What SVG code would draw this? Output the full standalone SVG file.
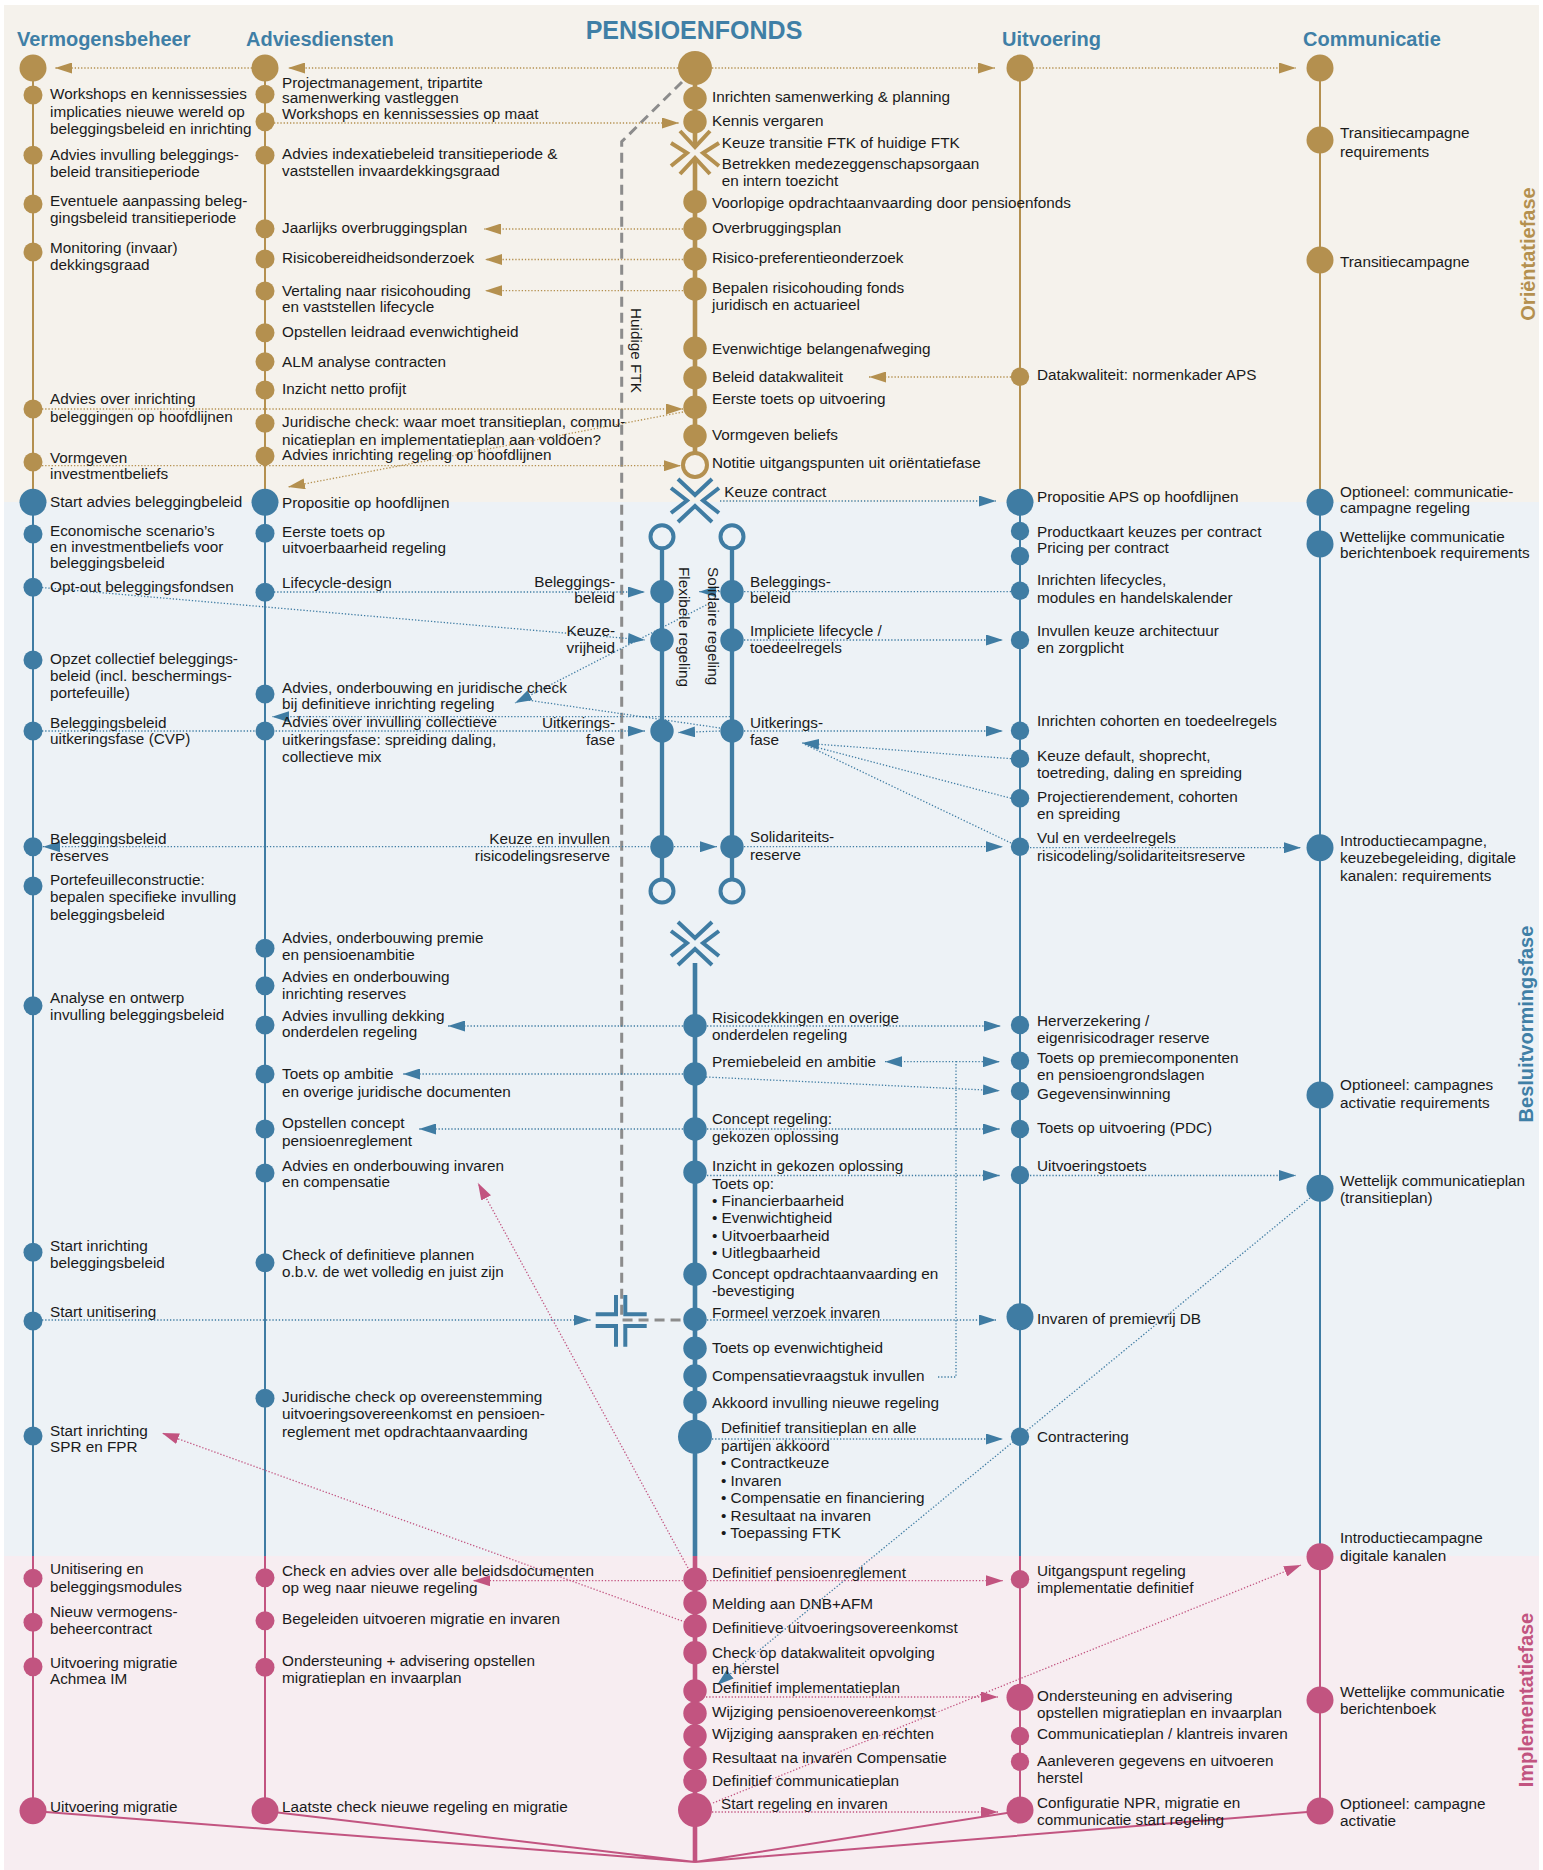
<svg xmlns="http://www.w3.org/2000/svg" width="1543" height="1870" viewBox="0 0 1543 1870">
<defs>
<style>
.t{font-family:"Liberation Sans",Arial,sans-serif;font-size:15.3px;fill:#1a1a1a}
.h{font-family:"Liberation Sans",Arial,sans-serif;font-weight:bold;font-size:20px;fill:#3f7fa6}
.ph{font-family:"Liberation Sans",Arial,sans-serif;font-weight:bold;font-size:20px}
.g{fill:#b4904f}.b{fill:#3f7ca3}.p{fill:#c25480}
.lg{stroke:#b4904f;fill:none}.lb{stroke:#3f7ca3;fill:none}.lp{stroke:#c25480;fill:none}
.thin{stroke-width:2}.thick{stroke-width:4.6}
.dg{stroke:#b4904f;stroke-width:1.3;stroke-dasharray:1.3 1.9;fill:none}
.db{stroke:#3f7ca3;stroke-width:1.3;stroke-dasharray:1.3 1.9;fill:none}
.dp{stroke:#c25480;stroke-width:1.3;stroke-dasharray:1.3 1.9;fill:none}
.mg{marker-end:url(#ag)}.mb{marker-end:url(#ab)}.mp{marker-end:url(#ap)}
.sym{fill:none;stroke-width:4;stroke-linecap:butt}
</style>
<marker id="ag" markerWidth="17" markerHeight="11" refX="17" refY="5.5" orient="auto" markerUnits="userSpaceOnUse"><path d="M0,0 L17,5.5 L0,11 Z" fill="#b4904f"/></marker>
<marker id="ab" markerWidth="17" markerHeight="11" refX="17" refY="5.5" orient="auto" markerUnits="userSpaceOnUse"><path d="M0,0 L17,5.5 L0,11 Z" fill="#3f7ca3"/></marker>
<marker id="ap" markerWidth="17" markerHeight="11" refX="17" refY="5.5" orient="auto" markerUnits="userSpaceOnUse"><path d="M0,0 L17,5.5 L0,11 Z" fill="#c25480"/></marker>
</defs>
<rect width="1543" height="1870" fill="#ffffff"/>
<g id="phases">
<rect x="4" y="5" width="1535" height="497" fill="#f5f2ec"/>
<rect x="4" y="502" width="1535" height="1054" fill="#edf2f6"/>
<rect x="4" y="1556" width="1535" height="314" fill="#f7edf1"/>
<text class="ph" transform="rotate(-90 1535 254)" x="1535" y="254" text-anchor="middle" style="fill:#b4904f">Oriëntatiefase</text>
<text class="ph" transform="rotate(-90 1533 1024)" x="1533" y="1024" text-anchor="middle" style="fill:#3f7fa6">Besluitvormingsfase</text>
<text class="ph" transform="rotate(-90 1533 1700)" x="1533" y="1700" text-anchor="middle" style="fill:#c25480">Implementatiefase</text>
</g>
<g id="headers">
<text class="h" x="17" y="46">Vermogensbeheer</text>
<text class="h" x="246" y="46">Adviesdiensten</text>
<text class="h" x="694" y="39" text-anchor="middle" style="font-size:25px">PENSIOENFONDS</text>
<text class="h" x="1002" y="46">Uitvoering</text>
<text class="h" x="1303" y="46">Communicatie</text>
</g>
<g id="lanes">
<path class="lg thin" d="M33,68 V502 M265,68 V502 M1020,68 V502 M1320,68 V502"/>
<path class="lb thin" d="M33,502 V1556 M265,502 V1556 M1020,502 V1556 M1320,502 V1556"/>
<path class="lp thin" d="M33,1556 V1811 M265,1556 V1811 M1020,1556 V1811 M1320,1556 V1811"/>
<path class="lg thick" d="M695,68 V147 M695,158 V465"/>
<path class="lb" stroke-width="4.3" d="M662,537 V891 M732,537 V891"/>
<path class="lb thick" d="M695,963 V1556"/>
<path class="lp thick" d="M695,1556 V1862"/>
<path class="lp thin" d="M33,1811 L695,1862 M265,1811 L695,1862 M1020,1811 L695,1862 M1320,1811 L695,1862"/>
</g>
<g id="connectors">
<path d="M682,82 L621.7,141.7 V1320 H683" fill="none" stroke="#8c8c8c" stroke-width="3" stroke-dasharray="10 6"/>
<text class="t" transform="rotate(90 631 308)" x="631" y="308">Huidige FTK</text>
<path class="dg mg" d="M678,68 H288"/>
<path class="dg mg" d="M252,68 H55"/>
<path class="dg mg" d="M712,68 H995"/>
<path class="dg mg" d="M1033,68 H1296"/>
<path class="dg mg" d="M274,123 H679"/>
<path class="dg mg" d="M683,229 H484"/>
<path class="dg mg" d="M683,259.5 H485"/>
<path class="dg mg" d="M683,290.7 H485"/>
<path class="dg mg" d="M1011,377 H869"/>
<path class="dg mg" d="M42,409 H683"/>
<path class="dg mg" d="M683,412 L288,487"/>
<path class="dg mg" d="M42,465.7 H681"/>
<path class="db mb" d="M720,501 H996"/>
<path class="db mb" d="M274,592 H645"/>
<path class="db mb" d="M1011,591.7 H699"/>
<path class="db mb" d="M42,587.5 L645,640"/>
<path class="db mb" d="M744,640 H1003"/>
<path class="db mb" d="M712,602 L515,703"/>
<path class="db" d="M720,728 L520,699"/>
<path class="db mb" d="M730,716.7 H272"/>
<path class="db mb" d="M42,731 H645"/>
<path class="db mb" d="M720,731 L678,732.5"/>
<path class="db mb" d="M744,731 H1003"/>
<path class="db mb" d="M1011,758.7 L802,743"/>
<path class="db" d="M1011,798.3 L804,744"/>
<path class="db" d="M1011,843 L804,744"/>
<path class="db mb" d="M652,846.7 H43"/>
<path class="db mb" d="M674,846.7 H717"/>
<path class="db mb" d="M744,846.7 H1003"/>
<path class="db mb" d="M1030,847.7 H1301"/>
<path class="db mb" d="M683,1026 H448"/>
<path class="db mb" d="M707,1026 H1001"/>
<path class="db mb" d="M683,1074 H403"/>
<path class="db mb" d="M938,1377 H956 V1061.7 H885"/>
<path class="db mb" d="M956,1061.7 H1000"/>
<path class="db mb" d="M706,1077 L1000,1090.7"/>
<path class="db mb" d="M683,1129 H419"/>
<path class="db mb" d="M707,1129 H1000"/>
<path class="db mb" d="M707,1175.5 H1000"/>
<path class="db mb" d="M1030,1175.5 H1296"/>
<path class="db mb" d="M42,1320 H590.7"/>
<path class="db mb" d="M707,1320 H996"/>
<path class="db mb" d="M1310,1198 L717,1685"/>
<path class="db mb" d="M712,1439 H1003"/>
<path class="dp mp" d="M683,1580.7 H473"/>
<path class="dp mp" d="M707,1580.7 H1003"/>
<path class="dp mp" d="M688,1568 L478,1183"/>
<path class="dp mp" d="M685,1622 L162,1433"/>
<path class="dp mp" d="M706,1697 H998"/>
<path class="dp mp" d="M713,1803 L1301,1565"/>
<path class="dp mp" d="M712,1812 H998"/>
</g>
<g id="symbols">
<path class="sym" stroke="#b4904f" d="M680,131 L695,147 L710,131 M680,174 L695,158 L710,174 M671,143 L687,153 L671,166 M719,143 L703,153 L719,166"/>
<path class="sym" stroke="#3f7ca3" d="M678,479 L695,495 L712,479 M678,522 L695,506 L712,522 M671,488 L687,500.5 L671,513 M719,488 L703,500.5 L719,513"/>
<path class="sym" stroke="#3f7ca3" d="M678,922 L695,938 L712,922 M678,965 L695,949 L712,965 M671,931 L687,943 L671,956 M719,931 L703,943 L719,956"/>
<path class="sym" stroke="#3f7ca3" d="M616,1295 V1314.3 H595.7 M625.3,1295 V1314.3 H646.7 M595.7,1326 H616 V1346.7 M646.7,1326 H625.3 V1346.7"/>
</g>
<g id="vermogensbeheer">
<g id="vb0"><circle class="g" cx="33" cy="68" r="13.5"/></g>
<g id="vb1"><circle class="g" cx="33" cy="95" r="9.5"/><text class="t" x="50" y="99">Workshops en kennissessies<tspan x="50" y="116.5">implicaties nieuwe wereld op</tspan><tspan x="50" y="134">beleggingsbeleid en inrichting</tspan></text></g>
<g id="vb2"><circle class="g" cx="33" cy="155.3" r="9.5"/><text class="t" x="50" y="160">Advies invulling beleggings-<tspan x="50" y="177">beleid transitieperiode</tspan></text></g>
<g id="vb3"><circle class="g" cx="33" cy="204" r="9.5"/><text class="t" x="50" y="205.5">Eventuele aanpassing beleg-<tspan x="50" y="222.7">gingsbeleid transitieperiode</tspan></text></g>
<g id="vb4"><circle class="g" cx="33" cy="252" r="9.5"/><text class="t" x="50" y="253">Monitoring (invaar)<tspan x="50" y="270">dekkingsgraad</tspan></text></g>
<g id="vb5"><circle class="g" cx="33" cy="409" r="9.5"/><text class="t" x="50" y="404">Advies over inrichting<tspan x="50" y="421.5">beleggingen op hoofdlijnen</tspan></text></g>
<g id="vb6"><circle class="g" cx="33" cy="462" r="9.5"/><text class="t" x="50" y="462.5">Vormgeven<tspan x="50" y="479">investmentbeliefs</tspan></text></g>
<g id="vb7"><circle class="b" cx="33" cy="502.3" r="13.5"/><text class="t" x="50" y="506.7">Start advies beleggingbeleid</text></g>
<g id="vb8"><circle class="b" cx="33" cy="534" r="9.5"/><text class="t" x="50" y="536">Economische scenario’s<tspan x="50" y="552">en investmentbeliefs voor</tspan><tspan x="50" y="568">beleggingsbeleid</tspan></text></g>
<g id="vb9"><circle class="b" cx="33" cy="587.3" r="9.5"/><text class="t" x="50" y="592">Opt-out beleggingsfondsen</text></g>
<g id="vb10"><circle class="b" cx="33" cy="660" r="9.5"/><text class="t" x="50" y="664">Opzet collectief beleggings-<tspan x="50" y="680.7">beleid (incl. beschermings-</tspan><tspan x="50" y="697.5">portefeuille)</tspan></text></g>
<g id="vb11"><circle class="b" cx="33" cy="731" r="9.5"/><text class="t" x="50" y="727.7">Beleggingsbeleid<tspan x="50" y="744.3">uitkeringsfase (CVP)</tspan></text></g>
<g id="vb12"><circle class="b" cx="33" cy="846.7" r="9.5"/><text class="t" x="50" y="844">Beleggingsbeleid<tspan x="50" y="860.7">reserves</tspan></text></g>
<g id="vb13"><circle class="b" cx="33" cy="886" r="9.5"/><text class="t" x="50" y="885">Portefeuilleconstructie:<tspan x="50" y="902.3">bepalen specifieke invulling</tspan><tspan x="50" y="920">beleggingsbeleid</tspan></text></g>
<g id="vb14"><circle class="b" cx="33" cy="1005.7" r="9.5"/><text class="t" x="50" y="1002.7">Analyse en ontwerp<tspan x="50" y="1020">invulling beleggingsbeleid</tspan></text></g>
<g id="vb15"><circle class="b" cx="33" cy="1252.3" r="9.5"/><text class="t" x="50" y="1250.7">Start inrichting<tspan x="50" y="1268">beleggingsbeleid</tspan></text></g>
<g id="vb16"><circle class="b" cx="33" cy="1321" r="9.5"/><text class="t" x="50" y="1316.7">Start unitisering</text></g>
<g id="vb17"><circle class="b" cx="33" cy="1436" r="9.5"/><text class="t" x="50" y="1435.7">Start inrichting<tspan x="50" y="1452.3">SPR en FPR</tspan></text></g>
<g id="vb18"><circle class="p" cx="33" cy="1578.3" r="9.5"/><text class="t" x="50" y="1574">Unitisering en<tspan x="50" y="1591.7">beleggingsmodules</tspan></text></g>
<g id="vb19"><circle class="p" cx="33" cy="1622.3" r="9.5"/><text class="t" x="50" y="1617.3">Nieuw vermogens-<tspan x="50" y="1634.3">beheercontract</tspan></text></g>
<g id="vb20"><circle class="p" cx="33" cy="1666.7" r="9.5"/><text class="t" x="50" y="1667.7">Uitvoering migratie<tspan x="50" y="1684.3">Achmea IM</tspan></text></g>
<g id="vb21"><circle class="p" cx="33" cy="1810.7" r="13.5"/><text class="t" x="50" y="1811.7">Uitvoering migratie</text></g>
</g>
<g id="adviesdiensten">
<g id="ad0"><circle class="g" cx="265" cy="68" r="13.5"/></g>
<g id="ad1"><circle class="g" cx="265" cy="94.3" r="9.5"/><text class="t" x="282" y="88.3">Projectmanagement, tripartite<tspan x="282" y="103.3">samenwerking vastleggen</tspan></text></g>
<g id="ad2"><circle class="g" cx="265" cy="121.7" r="9.5"/><text class="t" x="282" y="119">Workshops en kennissessies op maat</text></g>
<g id="ad3"><circle class="g" cx="265" cy="155.3" r="9.5"/><text class="t" x="282" y="159.3">Advies indexatiebeleid transitieperiode &amp;<tspan x="282" y="176">vaststellen invaardekkingsgraad</tspan></text></g>
<g id="ad4"><circle class="g" cx="265" cy="228.7" r="9.5"/><text class="t" x="282" y="232.7">Jaarlijks overbruggingsplan</text></g>
<g id="ad5"><circle class="g" cx="265" cy="259" r="9.5"/><text class="t" x="282" y="263.3">Risicobereidheidsonderzoek</text></g>
<g id="ad6"><circle class="g" cx="265" cy="291" r="9.5"/><text class="t" x="282" y="295.7">Vertaling naar risicohouding<tspan x="282" y="312.3">en vaststellen lifecycle</tspan></text></g>
<g id="ad7"><circle class="g" cx="265" cy="332.7" r="9.5"/><text class="t" x="282" y="337.3">Opstellen leidraad evenwichtigheid</text></g>
<g id="ad8"><circle class="g" cx="265" cy="361.7" r="9.5"/><text class="t" x="282" y="366.7">ALM analyse contracten</text></g>
<g id="ad9"><circle class="g" cx="265" cy="390" r="9.5"/><text class="t" x="282" y="394.3">Inzicht netto profijt</text></g>
<g id="ad10"><circle class="g" cx="265" cy="423.3" r="9.5"/><text class="t" x="282" y="427.3">Juridische check: waar moet transitieplan, commu-<tspan x="282" y="445">nicatieplan en implementatieplan aan voldoen?</tspan></text></g>
<g id="ad11"><circle class="g" cx="265" cy="456" r="9.5"/><text class="t" x="282" y="460">Advies inrichting regeling op hoofdlijnen</text></g>
<g id="ad12"><circle class="b" cx="265" cy="502.3" r="13.5"/><text class="t" x="282" y="508.3">Propositie op hoofdlijnen</text></g>
<g id="ad13"><circle class="b" cx="265" cy="533.3" r="9.5"/><text class="t" x="282" y="536.7">Eerste toets op<tspan x="282" y="553.3">uitvoerbaarheid regeling</tspan></text></g>
<g id="ad14"><circle class="b" cx="265" cy="592.3" r="9.5"/><text class="t" x="282" y="588.3">Lifecycle-design</text></g>
<g id="ad15"><circle class="b" cx="265" cy="694" r="9.5"/><text class="t" x="282" y="692.7">Advies, onderbouwing en juridische check<tspan x="282" y="709.3">bij definitieve inrichting regeling</tspan></text></g>
<g id="ad16"><circle class="b" cx="265" cy="731" r="9.5"/><text class="t" x="282" y="727.3">Advies over invulling collectieve<tspan x="282" y="745">uitkeringsfase: spreiding daling,</tspan><tspan x="282" y="761.7">collectieve mix</tspan></text></g>
<g id="ad17"><circle class="b" cx="265" cy="948.3" r="9.5"/><text class="t" x="282" y="943.3">Advies, onderbouwing premie<tspan x="282" y="960">en pensioenambitie</tspan></text></g>
<g id="ad18"><circle class="b" cx="265" cy="985.7" r="9.5"/><text class="t" x="282" y="982.3">Advies en onderbouwing<tspan x="282" y="999.3">inrichting reserves</tspan></text></g>
<g id="ad19"><circle class="b" cx="265" cy="1025" r="9.5"/><text class="t" x="282" y="1020.7">Advies invulling dekking<tspan x="282" y="1037.3">onderdelen regeling</tspan></text></g>
<g id="ad20"><circle class="b" cx="265" cy="1074" r="9.5"/><text class="t" x="282" y="1079.3">Toets op ambitie<tspan x="282" y="1096.7">en overige juridische documenten</tspan></text></g>
<g id="ad21"><circle class="b" cx="265" cy="1129" r="9.5"/><text class="t" x="282" y="1128.3">Opstellen concept<tspan x="282" y="1146">pensioenreglement</tspan></text></g>
<g id="ad22"><circle class="b" cx="265" cy="1173" r="9.5"/><text class="t" x="282" y="1170.7">Advies en onderbouwing invaren<tspan x="282" y="1187.3">en compensatie</tspan></text></g>
<g id="ad23"><circle class="b" cx="265" cy="1262.7" r="9.5"/><text class="t" x="282" y="1260">Check of definitieve plannen<tspan x="282" y="1277.3">o.b.v. de wet volledig en juist zijn</tspan></text></g>
<g id="ad24"><circle class="b" cx="265" cy="1398.3" r="9.5"/><text class="t" x="282" y="1401.7">Juridische check op overeenstemming<tspan x="282" y="1418.7">uitvoeringsovereenkomst en pensioen-</tspan><tspan x="282" y="1436.5">reglement met opdrachtaanvaarding</tspan></text></g>
<g id="ad25"><circle class="p" cx="265" cy="1577.7" r="9.5"/><text class="t" x="282" y="1575.7">Check en advies over alle beleidsdocumenten<tspan x="282" y="1593.3">op weg naar nieuwe regeling</tspan></text></g>
<g id="ad26"><circle class="p" cx="265" cy="1620.7" r="9.5"/><text class="t" x="282" y="1624.3">Begeleiden uitvoeren migratie en invaren</text></g>
<g id="ad27"><circle class="p" cx="265" cy="1667.3" r="9.5"/><text class="t" x="282" y="1665.7">Ondersteuning + advisering opstellen<tspan x="282" y="1682.7">migratieplan en invaarplan</tspan></text></g>
<g id="ad28"><circle class="p" cx="265" cy="1810.7" r="13.5"/><text class="t" x="282" y="1811.7">Laatste check nieuwe regeling en migratie</text></g>
</g>
<g id="pensioenfonds">
<g id="pf0"><circle class="g" cx="695" cy="68" r="17"/></g>
<g id="pf1"><circle class="g" cx="695" cy="98.3" r="11.7"/><text class="t" x="712" y="101.7">Inrichten samenwerking &amp; planning</text></g>
<g id="pf2"><circle class="g" cx="695" cy="121.7" r="11.7"/><text class="t" x="712" y="125.7">Kennis vergaren</text></g>
<g id="pf3"><text class="t" x="721.7" y="148.3">Keuze transitie FTK of huidige FTK<tspan x="721.7" y="169.3">Betrekken medezeggenschapsorgaan</tspan><tspan x="721.7" y="186">en intern toezicht</tspan></text></g>
<g id="pf4"><circle class="g" cx="695" cy="201.7" r="11.7"/><text class="t" x="712" y="208.3">Voorlopige opdrachtaanvaarding door pensioenfonds</text></g>
<g id="pf5"><circle class="g" cx="695" cy="228.7" r="11.7"/><text class="t" x="712" y="232.7">Overbruggingsplan</text></g>
<g id="pf6"><circle class="g" cx="695" cy="259" r="11.7"/><text class="t" x="712" y="263.3">Risico-preferentieonderzoek</text></g>
<g id="pf7"><circle class="g" cx="695" cy="289" r="11.7"/><text class="t" x="712" y="293.3">Bepalen risicohouding fonds<tspan x="712" y="310">juridisch en actuarieel</tspan></text></g>
<g id="pf8"><circle class="g" cx="695" cy="348.3" r="11.7"/><text class="t" x="712" y="354.3">Evenwichtige belangenafweging</text></g>
<g id="pf9"><circle class="g" cx="695" cy="377.7" r="11.7"/><text class="t" x="712" y="381.7">Beleid datakwaliteit</text></g>
<g id="pf10"><circle class="g" cx="695" cy="407.3" r="11.7"/><text class="t" x="712" y="404.3">Eerste toets op uitvoering</text></g>
<g id="pf11"><circle class="g" cx="695" cy="436" r="11.7"/><text class="t" x="712" y="440">Vormgeven beliefs</text></g>
<g id="pf12"><circle cx="695" cy="465" r="12" fill="#f5f2ec" stroke="#b4904f" stroke-width="4"/><text class="t" x="712" y="468.3">Notitie uitgangspunten uit oriëntatiefase</text></g>
<g id="pf13"><text class="t" x="724.3" y="497.3">Keuze contract</text></g>
<g id="pf15"><circle class="b" cx="695" cy="1025.7" r="11.7"/><text class="t" x="712" y="1023.3">Risicodekkingen en overige<tspan x="712" y="1040">onderdelen regeling</tspan></text></g>
<g id="pf16"><circle class="b" cx="695" cy="1074" r="11.7"/><text class="t" x="712" y="1067.3">Premiebeleid en ambitie</text></g>
<g id="pf17"><circle class="b" cx="695" cy="1129" r="11.7"/><text class="t" x="712" y="1124">Concept regeling:<tspan x="712" y="1141.7">gekozen oplossing</tspan></text></g>
<g id="pf18"><circle class="b" cx="695" cy="1172.3" r="11.7"/><text class="t" x="712" y="1171">Inzicht in gekozen oplossing<tspan x="712" y="1189">Toets op:</tspan><tspan x="712" y="1205.7">• Financierbaarheid</tspan><tspan x="712" y="1223.3">• Evenwichtigheid</tspan><tspan x="712" y="1240.7">• Uitvoerbaarheid</tspan><tspan x="712" y="1257.7">• Uitlegbaarheid</tspan></text></g>
<g id="pf19"><circle class="b" cx="695" cy="1274.3" r="11.7"/><text class="t" x="712" y="1279">Concept opdrachtaanvaarding en<tspan x="712" y="1296">-bevestiging</tspan></text></g>
<g id="pf20"><circle class="b" cx="695" cy="1319.3" r="11.7"/><text class="t" x="712" y="1317.7">Formeel verzoek invaren</text></g>
<g id="pf21"><circle class="b" cx="695" cy="1348.3" r="11.7"/><text class="t" x="712" y="1353.3">Toets op evenwichtigheid</text></g>
<g id="pf22"><circle class="b" cx="695" cy="1376" r="11.7"/><text class="t" x="712" y="1380.7">Compensatievraagstuk invullen</text></g>
<g id="pf23"><circle class="b" cx="695" cy="1402.3" r="11.7"/><text class="t" x="712" y="1407.7">Akkoord invulling nieuwe regeling</text></g>
<g id="pf24"><circle class="b" cx="695" cy="1436.7" r="17"/><text class="t" x="721" y="1433.3">Definitief transitieplan en alle<tspan x="721" y="1451">partijen akkoord</tspan><tspan x="721" y="1468.3">• Contractkeuze</tspan><tspan x="721" y="1485.7">• Invaren</tspan><tspan x="721" y="1503.3">• Compensatie en financiering</tspan><tspan x="721" y="1520.7">• Resultaat na invaren</tspan><tspan x="721" y="1537.7">• Toepassing FTK</tspan></text></g>
<g id="pf25"><circle class="p" cx="695" cy="1579.3" r="11.7"/><text class="t" x="712" y="1577.7">Definitief pensioenreglement</text></g>
<g id="pf26"><circle class="p" cx="695" cy="1602.7" r="11.7"/><text class="t" x="712" y="1609.3">Melding aan DNB+AFM</text></g>
<g id="pf27"><circle class="p" cx="695" cy="1626" r="11.7"/><text class="t" x="712" y="1632.7">Definitieve uitvoeringsovereenkomst</text></g>
<g id="pf28"><circle class="p" cx="695" cy="1652.7" r="11.7"/><text class="t" x="712" y="1657.7">Check op datakwaliteit opvolging<tspan x="712" y="1674.3">en herstel</tspan></text></g>
<g id="pf29"><circle class="p" cx="695" cy="1691" r="11.7"/><text class="t" x="712" y="1693.3">Definitief implementatieplan</text></g>
<g id="pf30"><circle class="p" cx="695" cy="1713.3" r="11.7"/><text class="t" x="712" y="1716.7">Wijziging pensioenovereenkomst</text></g>
<g id="pf31"><circle class="p" cx="695" cy="1736" r="11.7"/><text class="t" x="712" y="1739.3">Wijziging aanspraken en rechten</text></g>
<g id="pf32"><circle class="p" cx="695" cy="1758.3" r="11.7"/><text class="t" x="712" y="1762.7">Resultaat na invaren Compensatie</text></g>
<g id="pf33"><circle class="p" cx="695" cy="1780.7" r="11.7"/><text class="t" x="712" y="1785.7">Definitief communicatieplan</text></g>
<g id="pf34"><circle class="p" cx="695" cy="1810" r="17"/><text class="t" x="721" y="1809">Start regeling en invaren</text></g>
</g>
<g id="regelingen">
<g id="flex">
<circle cx="662" cy="536.7" r="11.5" fill="#edf2f6" stroke="#3f7ca3" stroke-width="4"/>
<circle cx="662" cy="891" r="11.5" fill="#edf2f6" stroke="#3f7ca3" stroke-width="4"/>
<text class="t" transform="rotate(90 679 567)" x="679" y="567">Flexibele regeling</text>
</g>
<g id="flex1"><circle class="b" cx="662" cy="591.7" r="11.7"/><text class="t" x="615" y="586.7" text-anchor="end">Beleggings-<tspan x="615" y="603.3">beleid</tspan></text></g>
<g id="flex2"><circle class="b" cx="662" cy="640" r="11.7"/><text class="t" x="615" y="635.7" text-anchor="end">Keuze-<tspan x="615" y="653.3">vrijheid</tspan></text></g>
<g id="flex3"><circle class="b" cx="662" cy="731" r="11.7"/><text class="t" x="615" y="727.7" text-anchor="end">Uitkerings-<tspan x="615" y="745">fase</tspan></text></g>
<g id="flex4"><circle class="b" cx="662" cy="846.7" r="11.7"/><text class="t" x="610" y="844" text-anchor="end">Keuze en invullen<tspan x="610" y="860.7">risicodelingsreserve</tspan></text></g>
<g id="sol">
<circle cx="732" cy="536.7" r="11.5" fill="#edf2f6" stroke="#3f7ca3" stroke-width="4"/>
<circle cx="732" cy="891" r="11.5" fill="#edf2f6" stroke="#3f7ca3" stroke-width="4"/>
<text class="t" transform="rotate(90 708 567)" x="708" y="567">Solidaire regeling</text>
</g>
<g id="sol1"><circle class="b" cx="732" cy="591.7" r="11.7"/><text class="t" x="750" y="586.7">Beleggings-<tspan x="750" y="603.3">beleid</tspan></text></g>
<g id="sol2"><circle class="b" cx="732" cy="640" r="11.7"/><text class="t" x="750" y="635.7">Impliciete lifecycle /<tspan x="750" y="653.3">toedeelregels</tspan></text></g>
<g id="sol3"><circle class="b" cx="732" cy="731" r="11.7"/><text class="t" x="750" y="727.7">Uitkerings-<tspan x="750" y="745">fase</tspan></text></g>
<g id="sol4"><circle class="b" cx="732" cy="846.7" r="11.7"/><text class="t" x="750" y="841.7">Solidariteits-<tspan x="750" y="860">reserve</tspan></text></g>
</g>
<g id="uitvoering">
<g id="uv0"><circle class="g" cx="1020" cy="68" r="13.5"/></g>
<g id="uv1"><circle class="g" cx="1020" cy="376.7" r="9.2"/><text class="t" x="1037" y="380">Datakwaliteit: normenkader APS</text></g>
<g id="uv2"><circle class="b" cx="1020" cy="502.3" r="13.5"/><text class="t" x="1037" y="501.7">Propositie APS op hoofdlijnen</text></g>
<g id="uv3"><circle class="b" cx="1020" cy="531" r="9.2"/><text class="t" x="1037" y="536.7">Productkaart keuzes per contract</text></g>
<g id="uv4"><circle class="b" cx="1020" cy="556" r="9.2"/><text class="t" x="1037" y="553.3">Pricing per contract</text></g>
<g id="uv5"><circle class="b" cx="1020" cy="590.7" r="9.2"/><text class="t" x="1037" y="585">Inrichten lifecycles,<tspan x="1037" y="602.7">modules en handelskalender</tspan></text></g>
<g id="uv6"><circle class="b" cx="1020" cy="640" r="9.2"/><text class="t" x="1037" y="635.7">Invullen keuze architectuur<tspan x="1037" y="653.3">en zorgplicht</tspan></text></g>
<g id="uv7"><circle class="b" cx="1020" cy="730.7" r="9.2"/><text class="t" x="1037" y="725.7">Inrichten cohorten en toedeelregels</text></g>
<g id="uv8"><circle class="b" cx="1020" cy="758.7" r="9.2"/><text class="t" x="1037" y="760.7">Keuze default, shoprecht,<tspan x="1037" y="778.3">toetreding, daling en spreiding</tspan></text></g>
<g id="uv9"><circle class="b" cx="1020" cy="798.3" r="9.2"/><text class="t" x="1037" y="801.7">Projectierendement, cohorten<tspan x="1037" y="819.3">en spreiding</tspan></text></g>
<g id="uv10"><circle class="b" cx="1020" cy="846.7" r="9.2"/><text class="t" x="1037" y="843.3">Vul en verdeelregels<tspan x="1037" y="860.7">risicodeling/solidariteitsreserve</tspan></text></g>
<g id="uv11"><circle class="b" cx="1020" cy="1025" r="9.2"/><text class="t" x="1037" y="1025.7">Herverzekering /<tspan x="1037" y="1042.7">eigenrisicodrager reserve</tspan></text></g>
<g id="uv12"><circle class="b" cx="1020" cy="1060.7" r="9.2"/><text class="t" x="1037" y="1062.7">Toets op premiecomponenten<tspan x="1037" y="1080">en pensioengrondslagen</tspan></text></g>
<g id="uv13"><circle class="b" cx="1020" cy="1091" r="9.2"/><text class="t" x="1037" y="1098.7">Gegevensinwinning</text></g>
<g id="uv14"><circle class="b" cx="1020" cy="1129" r="9.2"/><text class="t" x="1037" y="1132.7">Toets op uitvoering (PDC)</text></g>
<g id="uv15"><circle class="b" cx="1020" cy="1175" r="9.2"/><text class="t" x="1037" y="1170.7">Uitvoeringstoets</text></g>
<g id="uv16"><circle class="b" cx="1020" cy="1316.7" r="13.5"/><text class="t" x="1037" y="1324.3">Invaren of premievrij DB</text></g>
<g id="uv17"><circle class="b" cx="1020" cy="1436.7" r="9.2"/><text class="t" x="1037" y="1441.7">Contractering</text></g>
<g id="uv18"><circle class="p" cx="1020" cy="1579.3" r="9.2"/><text class="t" x="1037" y="1575.7">Uitgangspunt regeling<tspan x="1037" y="1592.7">implementatie definitief</tspan></text></g>
<g id="uv19"><circle class="p" cx="1020" cy="1697.3" r="13.5"/><text class="t" x="1037" y="1701">Ondersteuning en advisering<tspan x="1037" y="1718.3">opstellen migratieplan en invaarplan</tspan></text></g>
<g id="uv20"><circle class="p" cx="1020" cy="1736" r="9.2"/><text class="t" x="1037" y="1739.3">Communicatieplan / klantreis invaren</text></g>
<g id="uv21"><circle class="p" cx="1020" cy="1761.7" r="9.2"/><text class="t" x="1037" y="1766">Aanleveren gegevens en uitvoeren<tspan x="1037" y="1782.7">herstel</tspan></text></g>
<g id="uv22"><circle class="p" cx="1020" cy="1810" r="13.5"/><text class="t" x="1037" y="1807.7">Configuratie NPR, migratie en<tspan x="1037" y="1825">communicatie start regeling</tspan></text></g>
</g>
<g id="communicatie">
<g id="cm0"><circle class="g" cx="1320" cy="68" r="13.5"/></g>
<g id="cm1"><circle class="g" cx="1320" cy="140" r="13.5"/><text class="t" x="1340" y="138.3">Transitiecampagne<tspan x="1340" y="156.7">requirements</tspan></text></g>
<g id="cm2"><circle class="g" cx="1320" cy="260" r="13.5"/><text class="t" x="1340" y="266.7">Transitiecampagne</text></g>
<g id="cm3"><circle class="b" cx="1320" cy="502.3" r="13.5"/><text class="t" x="1340" y="496.7">Optioneel: communicatie-<tspan x="1340" y="513.3">campagne regeling</tspan></text></g>
<g id="cm4"><circle class="b" cx="1320" cy="544" r="13.5"/><text class="t" x="1340" y="541.7">Wettelijke communicatie<tspan x="1340" y="558.3">berichtenboek requirements</tspan></text></g>
<g id="cm5"><circle class="b" cx="1320" cy="847.7" r="13.5"/><text class="t" x="1340" y="845.7">Introductiecampagne,<tspan x="1340" y="863.3">keuzebegeleiding, digitale</tspan><tspan x="1340" y="880.7">kanalen: requirements</tspan></text></g>
<g id="cm6"><circle class="b" cx="1320" cy="1095" r="13.5"/><text class="t" x="1340" y="1090">Optioneel: campagnes<tspan x="1340" y="1107.7">activatie requirements</tspan></text></g>
<g id="cm7"><circle class="b" cx="1320" cy="1188.3" r="13.5"/><text class="t" x="1340" y="1186">Wettelijk communicatieplan<tspan x="1340" y="1203.3">(transitieplan)</tspan></text></g>
<g id="cm8"><circle class="p" cx="1320" cy="1556.7" r="13.5"/><text class="t" x="1340" y="1543.3">Introductiecampagne<tspan x="1340" y="1560.7">digitale kanalen</tspan></text></g>
<g id="cm9"><circle class="p" cx="1320" cy="1700" r="13.5"/><text class="t" x="1340" y="1697.3">Wettelijke communicatie<tspan x="1340" y="1714.3">berichtenboek</tspan></text></g>
<g id="cm10"><circle class="p" cx="1320" cy="1811" r="13.5"/><text class="t" x="1340" y="1809">Optioneel: campagne<tspan x="1340" y="1825.7">activatie</tspan></text></g>
</g>
</svg>
